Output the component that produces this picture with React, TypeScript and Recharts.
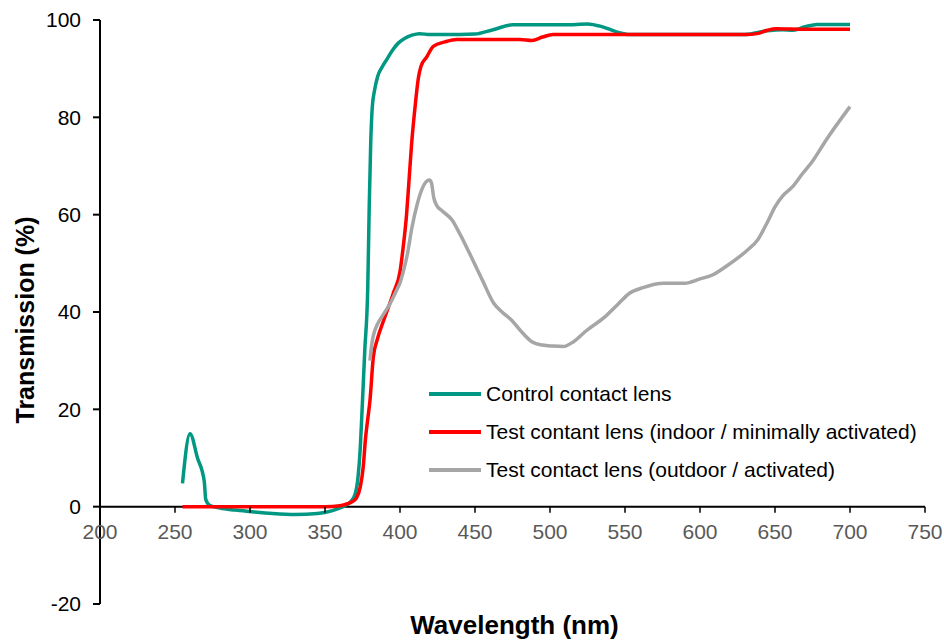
import React from 'react';
import {
  LineChart,
  Line,
  XAxis,
  YAxis,
  Legend,
  ReferenceLine
} from 'recharts';

// wavelength (nm) / transmission (%)
const controlWavelength = [
  255, 260, 265, 269.5, 270.5, 273, 280, 290, 300, 315, 330, 345, 355, 362, 367, 370, 372,
  373.5, 374.7, 376.5, 378.5, 379.5, 380.5, 381.5, 383, 385, 388, 391, 395, 399, 403, 408,
  413, 420, 440, 450, 462, 475, 490, 510, 525, 535, 545, 553, 570, 600, 630, 645, 655, 662,
  670, 678, 690, 700
];
const controlTransmission = [
  4.8, 15, 10, 5.2, 1.5, 0.3, -0.3, -0.7, -1.0, -1.4, -1.6, -1.4, -0.8, 0, 1.0, 2.5, 6,
  12, 19.7, 32, 45, 62, 75, 82, 85.5, 88.3, 90.3, 91.8, 93.8, 95.3, 96.2, 96.9,
  97.2, 97, 97, 97.1, 98, 99, 99, 99, 99.2, 98.6, 97.5, 97, 97, 97, 97, 97.8, 98, 97.9,
  98.6, 99.1, 99.1, 99.1
];

const indoorWavelength = [
  255, 270, 300, 330, 350, 360, 365, 368, 371, 373.5, 375.5, 377, 378.5, 380, 382.2, 385,
  388.9, 395.6, 400, 402, 404.4, 406, 407.8, 410, 412.2, 414, 417.8, 422.2, 430, 437.8,
  460, 480, 488, 495, 502, 520, 560, 600, 630, 638, 645, 651, 670, 700
];
const indoorTransmission = [
  0, 0, 0, 0, 0, 0.2, 0.6, 1.0, 1.8, 4, 8.2, 14, 18, 21.9, 30.7, 34.5,
  38.1, 43.9, 48.3, 53, 60.1, 67, 74.8, 82, 88, 90.5, 92.4, 94.6, 95.5, 96,
  96, 96, 95.8, 96.5, 97, 97, 97, 97, 97, 97.2, 97.9, 98.2, 98.1, 98.1
];

const outdoorWavelength = [
  380, 381, 382.2, 385, 388.9, 393, 397.8, 400, 402.2, 405, 407.8, 411.6, 415, 419.6, 421,
  422.5, 424.3, 428, 434.7, 440, 446.3, 455, 462.5, 468, 474.1, 480, 487.9, 495, 502, 508.8,
  515.7, 524.4, 536.6, 545, 552.8, 562, 575.9, 589.8, 600, 608.3, 618, 631.5, 638.4, 645,
  650, 655, 661.6, 668, 675.5, 684, 700
];
const outdoorTransmission = [
  30, 33, 35.1, 37.5, 39.5, 41.5, 44.5, 46, 48.3, 52, 57.1, 62.3, 65.5, 67.1, 66.5,
  63.5, 62, 60.8, 58.9, 56, 52.1, 46.5, 41.8, 40, 38.4, 36.3, 33.9, 33.2, 33, 32.9,
  33.9, 36.2, 39, 41.5, 43.8, 45, 45.9, 45.9, 46.8, 47.6, 49.5, 52.7, 54.8, 58.5,
  61.6, 63.8, 65.7, 68.3, 71.2, 75.3, 82.2
];

const seriesNames = [
  'Control contact lens',
  'Test contant lens (indoor / minimally activated)',
  'Test contact lens (outdoor / activated)'
];
const seriesColors = ['#009882', '#ff0000', '#a6a6a6'];

const xTicks = [200, 250, 300, 350, 400, 450, 500, 550, 600, 650, 700, 750];
const yTicks = [-20, 0, 20, 40, 60, 80, 100];

const toRows = (w: number[], t: number[]) => w.map((x, i) => ({ w: x, t: t[i] }));

const seriesData = [
  toRows(controlWavelength, controlTransmission),
  toRows(indoorWavelength, indoorTransmission),
  toRows(outdoorWavelength, outdoorTransmission)
];

const FONT = '"Liberation Sans", Arial, sans-serif';
const WIDTH = 944;
const HEIGHT = 640;
const MARGIN = { top: 20, right: 19, bottom: 0, left: 0 };
const X_AXIS_H = 36;
const Y_MIN = -20;
const Y_MAX = 100;
const PLOT_H = HEIGHT - MARGIN.top - MARGIN.bottom - X_AXIS_H;
// the x axis crosses at y = 0, not at the bottom of the plot
const ZERO_Y = MARGIN.top + (PLOT_H * Y_MAX) / (Y_MAX - Y_MIN);

const XTick = (props: any) => {
  const { x, payload } = props;
  return (
    <g>
      <line x1={x} x2={x} y1={ZERO_Y} y2={ZERO_Y + 6} stroke="#000" strokeWidth={1.5} />
      <text x={x} y={ZERO_Y + 32} textAnchor="middle" fill="#595959" fontSize={21} fontFamily={FONT}>
        {payload.value}
      </text>
    </g>
  );
};

const LegendBox = ({ payload }: any) => {
  const items = [...(payload || [])].sort(
    (a: any, b: any) => seriesNames.indexOf(a.value) - seriesNames.indexOf(b.value)
  );
  return (
    <div style={{ fontFamily: FONT, fontSize: 21, color: '#000' }}>
      {items.map((entry: any) => (
        <div key={entry.value} style={{ display: 'flex', alignItems: 'center', height: 38, whiteSpace: 'nowrap' }}>
          <span style={{ display: 'inline-block', width: 52, height: 4, background: entry.color, marginRight: 5 }} />
          <span>{entry.value}</span>
        </div>
      ))}
    </div>
  );
};

const App: React.FC = () => {
  return (
    <div style={{ position: 'absolute', left: 0, top: 0, background: '#fff' }}>
      <LineChart width={WIDTH} height={HEIGHT} margin={MARGIN}>
        <XAxis
          dataKey="w"
          type="number"
          domain={[200, 750]}
          ticks={xTicks}
          allowDataOverflow
          axisLine={false}
          tickLine={false}
          height={X_AXIS_H}
          tick={<XTick />}
          label={{
            content: ({ viewBox }: any) => (
              <text
                x={viewBox.x + viewBox.width / 2 + 2}
                y={viewBox.y + viewBox.height - 6}
                textAnchor="middle"
                fontFamily={FONT}
                fontWeight="bold"
                fontSize={26}
                fill="#000"
              >
                Wavelength (nm)
              </text>
            )
          }}
        />
        <YAxis
          type="number"
          domain={[Y_MIN, Y_MAX]}
          ticks={yTicks}
          width={100}
          tickSize={7}
          tickMargin={12}
          axisLine={{ stroke: '#000', strokeWidth: 2 }}
          tickLine={{ stroke: '#000', strokeWidth: 2 }}
          tick={{ fill: '#000', fontSize: 21, fontFamily: FONT }}
          label={{
            content: ({ viewBox }: any) => {
              const cx = viewBox.x + 34;
              const cy = viewBox.y + viewBox.height / 2 + 8;
              return (
                <text
                  x={cx}
                  y={cy}
                  transform={`rotate(-90 ${cx} ${cy})`}
                  textAnchor="middle"
                  fontFamily={FONT}
                  fontWeight="bold"
                  fontSize={25}
                  fill="#000"
                >
                  Transmission (%)
                </text>
              );
            }
          }}
        />
        <ReferenceLine y={0} stroke="#000" strokeWidth={2} />
        <Legend
          layout="vertical"
          align="center"
          verticalAlign="middle"
          wrapperStyle={{ left: 429, top: 375, width: 'auto' }}
          content={<LegendBox />}
        />
        {seriesData.map((rows, i) => (
          <Line
            key={seriesNames[i]}
            data={rows}
            dataKey="t"
            name={seriesNames[i]}
            type="monotone"
            stroke={seriesColors[i]}
            strokeWidth={3.5}
            dot={false}
            activeDot={false}
            isAnimationActive={false}
          />
        ))}
      </LineChart>
    </div>
  );
};

export default App;
